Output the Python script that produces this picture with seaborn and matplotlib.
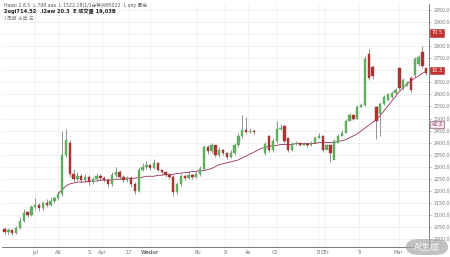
import numpy as np
import pandas as pd
import matplotlib
matplotlib.use("Agg")
import matplotlib.pyplot as plt
from matplotlib.patches import FancyBboxPatch
import seaborn as sns

# ---------------- data ----------------
nan = float("nan")
opens = [2040, 2028, 2036, 2024, 2044, 2076, 2110, 2100, 2132, 2142, 2128, 2148, 2140, 2156, 2168,
         2188, 2350, 2400, 2268, 2248, 2260, 2244, 2256, 2236, 2248, 2260, 2252, 2244, 2228, 2264,
         2276, 2256, 2244, 2252, 2228, 2200, 2288, 2300, 2308, 2296, 2316, 2288, 2276, 2264, 2256,
         2196, 2228, 2260, 2252, 2264, 2256, 2268, 2292, 2380, 2364, 2388, 2348, 2368, 2356, 2340,
         2356, 2388, 2428, 2452, 2444, 2448, nan, nan, 2356, 2428, 2368, 2408, 2456, 2468, 2420,
         2368, 2396, 2400, 2392, 2396, 2388, 2400, 2420, 2428, 2368, 2388, 2328, 2400, 2428, 2440,
         2488, 2516, 2500, 2548, 2556, 2768, 2716, 2548, 2520, 2560, 2576, 2588, 2608, 2708, 2628,
         2636, 2668, 2680, 2728, 2776, 2708]
closes = [2028, 2036, 2024, 2044, 2076, 2108, 2100, 2132, 2140, 2128, 2148, 2140, 2156, 2168, 2188,
          2348, 2410, 2268, 2248, 2260, 2244, 2256, 2236, 2248, 2260, 2252, 2244, 2228, 2264, 2276,
          2256, 2244, 2252, 2228, 2200, 2288, 2300, 2308, 2296, 2316, 2288, 2276, 2264, 2256, 2196,
          2228, 2260, 2252, 2264, 2256, 2268, 2292, 2380, 2364, 2388, 2348, 2368, 2356, 2340, 2356,
          2388, 2428, 2452, 2444, 2448, 2444, nan, nan, 2396, 2368, 2408, 2456, 2460, 2408, 2368,
          2396, 2400, 2392, 2396, 2388, 2400, 2420, 2428, 2368, 2388, 2356, 2408, 2428, 2440, 2488,
          2516, 2500, 2548, 2556, 2748, 2668, 2676, 2488, 2560, 2588, 2600, 2608, 2620, 2628, 2660,
          2648, 2620, 2748, 2756, 2720, 2688]
highs = [2048, 2044, 2040, 2052, 2090, 2124, 2116, 2140, 2168, 2148, 2156, 2164, 2172, 2176, 2200,
         2448, 2456, 2410, 2290, 2276, 2270, 2268, 2264, 2256, 2272, 2268, 2260, 2252, 2276, 2300,
         2284, 2264, 2260, 2260, 2236, 2300, 2316, 2324, 2312, 2330, 2320, 2292, 2280, 2272, 2264,
         2236, 2268, 2264, 2276, 2268, 2280, 2304, 2392, 2388, 2400, 2392, 2380, 2372, 2360, 2368,
         2400, 2440, 2516, 2508, 2460, 2456, nan, nan, 2404, 2432, 2420, 2488, 2476, 2472, 2424,
         2404, 2408, 2404, 2404, 2400, 2408, 2428, 2440, 2432, 2396, 2392, 2416, 2436, 2452, 2500,
         2524, 2520, 2556, 2564, 2760, 2788, 2724, 2552, 2568, 2596, 2608, 2616, 2628, 2716, 2668,
         2656, 2676, 2756, 2764, 2800, 2712]
lows = [2020, 2020, 2016, 2020, 2040, 2070, 2090, 2096, 2124, 2116, 2120, 2132, 2136, 2148, 2160,
        2180, 2340, 2256, 2236, 2240, 2232, 2236, 2224, 2228, 2240, 2244, 2236, 2216, 2220, 2256,
        2248, 2236, 2236, 2216, 2188, 2196, 2280, 2292, 2288, 2290, 2280, 2268, 2256, 2248, 2176,
        2188, 2220, 2244, 2248, 2248, 2252, 2260, 2284, 2352, 2356, 2340, 2340, 2348, 2332, 2336,
        2348, 2380, 2420, 2436, 2440, 2436, nan, nan, 2348, 2360, 2360, 2400, 2452, 2400, 2360,
        2364, 2388, 2384, 2388, 2380, 2384, 2412, 2420, 2360, 2376, 2320, 2392, 2420, 2432, 2480,
        2504, 2492, 2496, 2548, 2552, 2660, 2664, 2416, 2428, 2556, 2572, 2584, 2604, 2620, 2620,
        2640, 2612, 2672, 2720, 2712, 2680]
ma_values = [nan] * 14 + [
    2188, 2204, 2220, 2228, 2232, 2236, 2236, 2236, 2240, 2240, 2240, 2244, 2244,
    2244, 2244, 2248, 2248, 2248, 2252, 2252, 2252, 2256,
    2256, 2260, 2260, 2260, 2264, 2264, 2268, 2268,
    2268, 2272, 2272, 2276, 2276, 2280, 2280, 2284, 2284, 2288,
    2292, 2300, 2308, 2312, 2316, 2320, 2324, 2328,
    2336, 2344, 2352, 2360, 2368, 2376, 2380,
    2384, 2388, 2388, 2392, 2392, 2392, 2392, 2396, 2396, 2396,
    2396, 2396, 2396, 2400, 2400, 2400, 2400, 2400,
    2404, 2408, 2412, 2420, 2428, 2436,
    2448, 2460, 2472, 2484, 2496,
    2512, 2532, 2552, 2572, 2592,
    2612, 2628, 2644, 2656,
    2668, 2676, 2688, 2696]

x_tick_labels = ["Jul", "A6", "S", "Apr", "17", "Wedur", "Bu", "8", "Ae", "C0", "B", "DEr", "Ti", "Mar"]
y_ticks = list(range(2000, 2951, 50))

header1 = "Hawo 2.8.5  L.798 aaa  L 1522.18(1/1分钟)985022  L ony 最低"
header2 = "2ogi714.52  .l2aw 20.3  E 成交量 19,03B"
header3 = "1周期 方案 五"
box_labels = ["70.5", "10.3", "42.3"]
box_values = [2856, 2700, 2476]
watermark = "AI生成"

# ---------------- style ----------------
sns.set_style("white")
plt.rcParams["font.family"] = ["DejaVu Sans", "Noto Sans CJK SC"]

fig = plt.figure(figsize=(4.5, 2.57), dpi=100)
ax = fig.add_axes([0.005, 10 / 257, 427 / 450, 243 / 257])

df = pd.DataFrame({"open": opens, "high": highs, "low": lows, "close": closes, "ma": ma_values})
df["idx"] = np.arange(len(df))
cd = df.dropna(subset=["open", "close"])

up = cd["close"] >= cd["open"]
green = "#5fae5f"
red = "#a83434"
colors = np.where(up, green, red)

ax.vlines(cd["idx"], cd["low"], cd["high"], color="#6a6a6a", linewidth=0.5, zorder=2)
bottoms = np.minimum(cd["open"], cd["close"])
heights = np.maximum(np.abs(cd["close"] - cd["open"]), 2)
ax.bar(cd["idx"], heights, bottom=bottoms, width=0.6, color=colors,
       edgecolor=colors, linewidth=0.3, zorder=3)

sns.lineplot(data=df.dropna(subset=["ma"]), x="idx", y="ma", ax=ax, color="#9b2d5c",
             linewidth=0.6, zorder=1.5)

# axes setup
ax.set_xlim(-0.6, 110.8)
ax.set_ylim(1966, 2976)
ax.set_xlabel("")
ax.set_ylabel("")

tick_pos = [8, 14, 22, 25.4, 32.4, 38, 50.3, 57.5, 63.5, 70.7, 81.9, 83.7, 92.5, 102.8]
ax.set_xticks(tick_pos)
ax.set_xticklabels(x_tick_labels, fontsize=3.6, color="#555555")
for lab in ax.get_xticklabels():
    if lab.get_text() == "Wedur":
        lab.set_fontweight("bold")
        lab.set_color("#333333")
ax.yaxis.tick_right()
ax.set_yticks(y_ticks)
ylabels = []
for v in y_ticks:
    near_box = any(abs(v - b) < 22 for b in box_values)
    ylabels.append("" if near_box else f"{v}.0")
ax.set_yticklabels(ylabels, fontsize=3.4, color="#666666")
ax.tick_params(axis="both", length=1.5, width=0.4, pad=1.5, colors="#777777")
ax.tick_params(axis="x", length=0, pad=2)

ax.grid(True, color="#ececec", linewidth=0.5, zorder=0)
ax.set_axisbelow(True)
for side in ["top", "left"]:
    ax.spines[side].set_visible(False)
ax.spines["right"].set_color("#666666")
ax.spines["right"].set_linewidth(0.6)
ax.spines["bottom"].set_color("#666666")
ax.spines["bottom"].set_linewidth(0.6)

# right-side price boxes
for i, (lab, val) in enumerate(zip(box_labels, box_values)):
    if i < 2:
        ax.annotate(lab, xy=(1.0, val), xycoords=("axes fraction", "data"),
                    xytext=(1.5, 0), textcoords="offset points",
                    fontsize=3.6, color="white", va="center", ha="left",
                    bbox=dict(boxstyle="square,pad=0.25", fc="#c0302f", ec="#c0302f", lw=0.4))
    else:
        ax.annotate(lab, xy=(1.0, val), xycoords=("axes fraction", "data"),
                    xytext=(1.5, 0), textcoords="offset points",
                    fontsize=3.6, color="#8a3a5a", va="center", ha="left",
                    bbox=dict(boxstyle="square,pad=0.25", fc="#f6e6ee", ec="#8a3a5a", lw=0.4))

# header
fig.text(0.008, 1 - 5 / 257, header1, fontsize=3.3, color="#555555", va="center", ha="left")
fig.text(0.008, 1 - 11.5 / 257, header2, fontsize=3.7, color="#222222", va="center", ha="left",
         fontweight="bold")
fig.text(0.008, 1 - 18 / 257, header3, fontsize=3.4, color="#888888", va="center", ha="left")

# watermark
wm = FancyBboxPatch((406 / 450, 2 / 257), 42 / 450, 16 / 257,
                    boxstyle="round,pad=0,rounding_size=0.03",
                    transform=fig.transFigure, fc="#a8a8a8", ec="none", alpha=0.7, zorder=10)
fig.patches.append(wm)
fig.text(427 / 450, 10 / 257, watermark, fontsize=6.2, color="#f4f4f4",
         ha="center", va="center", zorder=11)

fig.savefig("out.png", dpi=100)
